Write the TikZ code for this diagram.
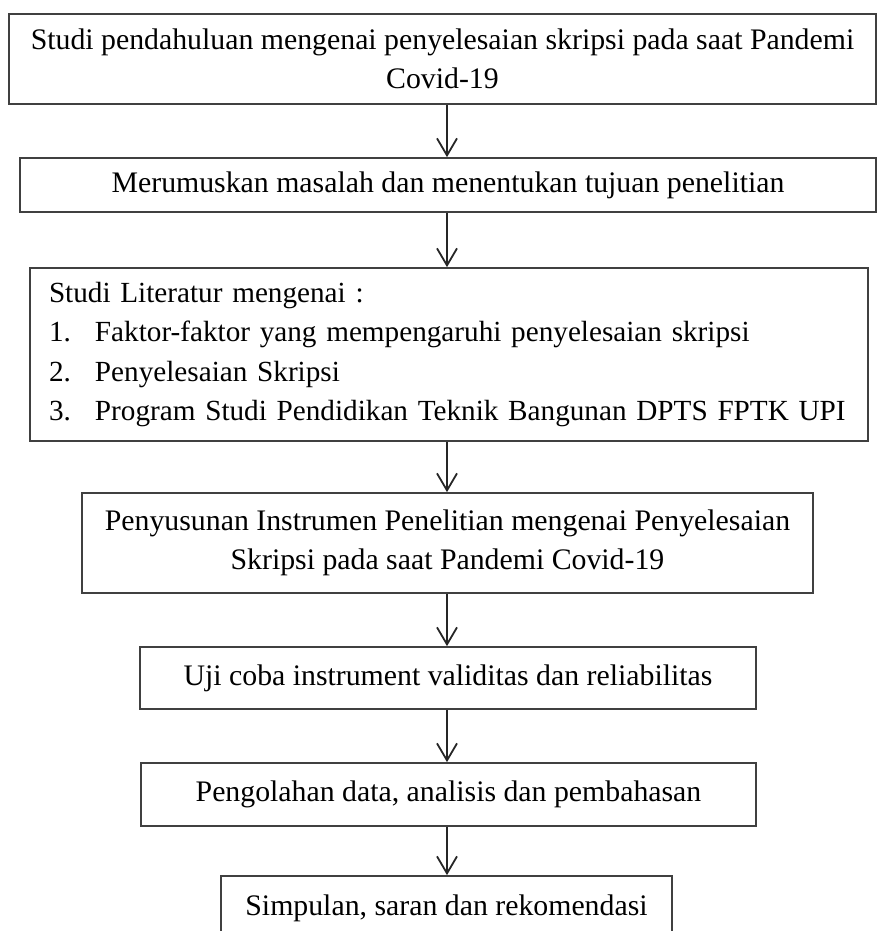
\documentclass[tikz,border=0pt]{standalone}
\usepackage{fontspec}
\setmainfont{Liberation Serif}
\usetikzlibrary{arrows.meta}
\newcommand\itemno[1]{\makebox[46pt][l]{#1}}

\begin{document}
\begin{tikzpicture}[x=1pt,y=-1pt,
  box/.style={draw=black!75, line width=1.7pt, inner sep=0pt, align=center,
    font=\fontsize{29.8}{39.5}\selectfont},
  arr/.style={draw=black!85, line width=1.8pt,
    -{Straight Barb[length=17pt,width=20pt,line width=1.8pt]}}]
\useasboundingbox (0,0) rectangle (877,931);
\pgfmathsetmacro\ax{447};
\coordinate (ax) at (\ax,0);
\node[box, minimum width=867pt, minimum height=90pt] (studi) at (442.5,59)
  {Studi pendahuluan mengenai penyelesaian skripsi pada saat Pandemi\\Covid-19};
\node[box, minimum width=856pt, minimum height=54pt] (rumus) at (448,185)
  {Merumuskan masalah dan menentukan tujuan penelitian};
\node[box, align=left, text width=838pt, minimum height=173pt,
  font=\fontsize{29.2}{39.5}\selectfont,
  execute at begin node={\leftskip=19pt\rightskip=0pt plus 1fil}] (literatur) at (449,354.5)
  {Studi Literatur mengenai :\\
   \itemno{1.}Faktor-faktor yang mempengaruhi penyelesaian skripsi\\
   \itemno{2.}Penyelesaian Skripsi\\
   \itemno{3.}Program Studi Pendidikan Teknik Bangunan DPTS FPTK UPI};
\node[box, minimum width=731pt, minimum height=100pt] (instrumen) at (447.5,543)
  {Penyusunan Instrumen Penelitian mengenai Penyelesaian\\Skripsi pada saat Pandemi Covid-19};
\node[box, minimum width=616pt, minimum height=62pt] (uji) at (448,678)
  {Uji coba instrument validitas dan reliabilitas};
\node[box, minimum width=615pt, minimum height=63pt] (olah) at (448.5,794.5)
  {Pengolahan data, analisis dan pembahasan};
\node[box, minimum width=451pt, minimum height=64pt] (simpulan) at (446.5,908)
  {Simpulan, saran dan rekomendasi};
% panah antar kotak
\foreach \a/\b in {studi/rumus,rumus/literatur,literatur/instrumen,instrumen/uji,uji/olah,olah/simpulan}
  \draw[arr] (\a.south -| ax) -- (\b.north -| ax);
\end{tikzpicture}
\end{document}
